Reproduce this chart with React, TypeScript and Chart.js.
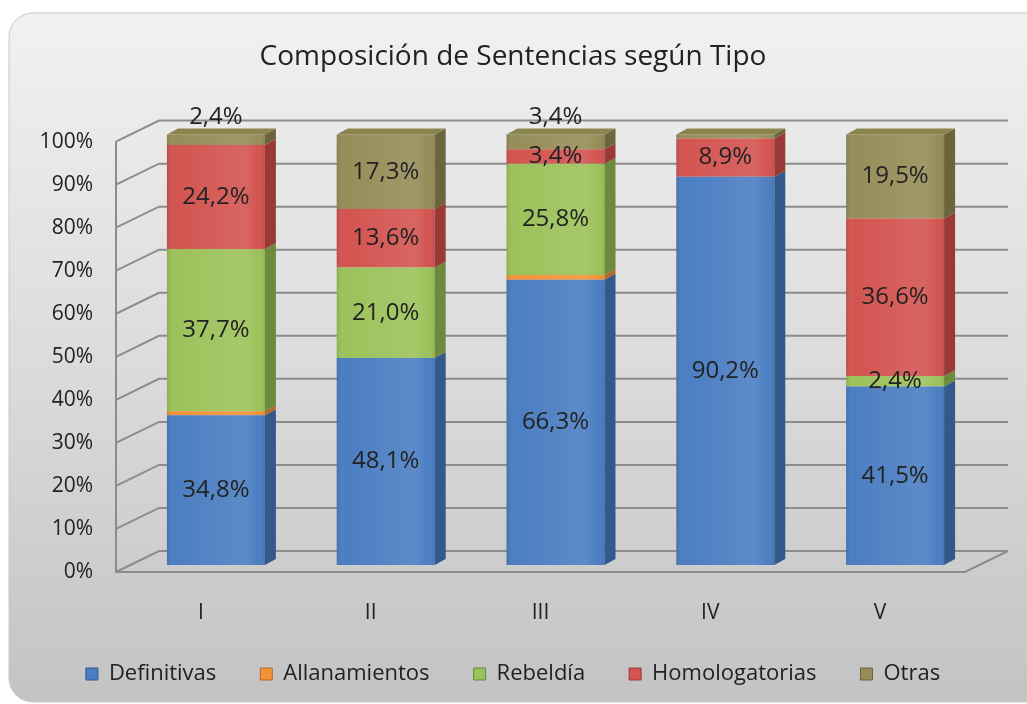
import React, { useEffect, useRef } from "react";
import { Chart, registerables } from "chart.js";

Chart.register(...registerables);

// ---------- data ----------
const title = "Composición de Sentencias según Tipo";
const categories = ["I", "II", "III", "IV", "V"];
const seriesNames = ["Definitivas", "Allanamientos", "Rebeldía", "Homologatorias", "Otras"];
const definitivas = [34.8, 48.1, 66.3, 90.2, 41.5];
const allanamientos = [0.9, 0, 1.1, 0, 0];
const rebeldia = [37.7, 21.0, 25.8, 0, 2.4];
const homologatorias = [24.2, 13.6, 3.4, 8.9, 36.6];
const otras = [2.4, 17.3, 3.4, 0.9, 19.5];
const seriesValues = [definitivas, allanamientos, rebeldia, homologatorias, otras];

// ---------- styles ----------
const frontColors = ["#4b7ec2", "#f39237", "#9cc25b", "#d35451", "#978d59"];
const sideColors = ["#33598c", "#b3692a", "#6d8a3d", "#993a37", "#6b643c"];
const topColors = ["#5a8ccc", "#f7a55a", "#aacb6e", "#c8605c", "#8a844f"];
const FONT = '"Open Sans", sans-serif';
const TEXT = "#222222";

const WALL_DX = 43;
const WALL_DY = 21;
const BAR_DX = 15;
const BAR_DY = 7;
const SIDE_DX = 11;
const SIDE_DY = 6;

const fmt = (v: number) => v.toFixed(1).replace(".", ",") + "%";

const backgroundPlugin = {
  id: "bg3d",
  beforeDraw(chart: any) {
    const ctx = chart.ctx as CanvasRenderingContext2D;
    const x = 9, y = 13, w = 1060, h = 689, r = 24;
    ctx.save();
    ctx.fillStyle = "#ffffff";
    ctx.fillRect(0, 0, chart.width, chart.height);
    const g = ctx.createLinearGradient(0, y, 0, y + h);
    g.addColorStop(0, "#f1f1f1");
    g.addColorStop(0.5, "#dcdcdc");
    g.addColorStop(1, "#c3c3c3");
    ctx.beginPath();
    ctx.moveTo(x + r, y);
    ctx.lineTo(x + w - r, y);
    ctx.arcTo(x + w, y, x + w, y + r, r);
    ctx.lineTo(x + w, y + h - r);
    ctx.arcTo(x + w, y + h, x + w - r, y + h, r);
    ctx.lineTo(x + r, y + h);
    ctx.arcTo(x, y + h, x, y + h - r, r);
    ctx.lineTo(x, y + r);
    ctx.arcTo(x, y, x + r, y, r);
    ctx.closePath();
    ctx.fillStyle = g;
    ctx.fill();
    ctx.strokeStyle = "#c8c8c8";
    ctx.lineWidth = 1;
    ctx.stroke();
    ctx.restore();
  },
};

const threeDPlugin = {
  id: "threeD",
  beforeDatasetsDraw(chart: any) {
    const ctx = chart.ctx as CanvasRenderingContext2D;
    const { left, right, top, bottom } = chart.chartArea;
    const y = chart.scales.y;
    ctx.save();
    ctx.strokeStyle = "#8c8c8c";
    ctx.lineWidth = 2;
    y.ticks.forEach((t: any) => {
      const py = y.getPixelForValue(t.value);
      ctx.beginPath();
      ctx.moveTo(left, py);
      ctx.lineTo(left + WALL_DX, py - WALL_DY);
      ctx.lineTo(right + WALL_DX, py - WALL_DY);
      ctx.stroke();
    });
    ctx.beginPath();
    ctx.moveTo(left, top);
    ctx.lineTo(left, bottom);
    ctx.lineTo(right, bottom);
    ctx.lineTo(right + WALL_DX, bottom - WALL_DY);
    ctx.stroke();
    ctx.restore();
    ctx.save();
    ctx.translate(BAR_DX, -BAR_DY);
  },
  afterDatasetsDraw(chart: any) {
    const ctx = chart.ctx as CanvasRenderingContext2D;
    const nCat = chart.data.labels.length;
    const nSer = chart.data.datasets.length;
    for (let j = 0; j < nCat; j++) {
      let topIdx = -1;
      for (let i = 0; i < nSer; i++) {
        const v = chart.data.datasets[i].data[j];
        if (!v) continue;
        topIdx = i;
        const el = chart.getDatasetMeta(i).data[j] as any;
        const xl = el.x - el.width / 2;
        const xr = el.x + el.width / 2;
        const g = ctx.createLinearGradient(xl, 0, xr, 0);
        g.addColorStop(0, "rgba(0,0,0,0.10)");
        g.addColorStop(0.08, "rgba(255,255,255,0.0)");
        g.addColorStop(0.8, "rgba(255,255,255,0.10)");
        g.addColorStop(0.93, "rgba(255,255,255,0.0)");
        g.addColorStop(1, "rgba(0,0,0,0.08)");
        ctx.fillStyle = g;
        ctx.fillRect(xl, el.y, el.width, el.base - el.y);
        ctx.beginPath();
        ctx.moveTo(xr, el.y);
        ctx.lineTo(xr + SIDE_DX, el.y - SIDE_DY);
        ctx.lineTo(xr + SIDE_DX, el.base - SIDE_DY);
        ctx.lineTo(xr, el.base);
        ctx.closePath();
        ctx.fillStyle = sideColors[i];
        ctx.fill();
      }
      if (topIdx >= 0) {
        const el = chart.getDatasetMeta(topIdx).data[j] as any;
        const xl = el.x - el.width / 2;
        const xr = el.x + el.width / 2;
        ctx.beginPath();
        ctx.moveTo(xl, el.y);
        ctx.lineTo(xl + SIDE_DX, el.y - SIDE_DY);
        ctx.lineTo(xr + SIDE_DX, el.y - SIDE_DY);
        ctx.lineTo(xr, el.y);
        ctx.closePath();
        ctx.fillStyle = topColors[topIdx];
        ctx.fill();
      }
    }
    ctx.font = `24px ${FONT}`;
    ctx.fillStyle = TEXT;
    ctx.textAlign = "center";
    ctx.textBaseline = "middle";
    for (let i = 0; i < nSer; i++) {
      for (let j = 0; j < nCat; j++) {
        const v = chart.data.datasets[i].data[j];
        if (!v || v < 2) continue;
        const el = chart.getDatasetMeta(i).data[j] as any;
        let cy = (el.y + el.base) / 2;
        if (i === nSer - 1 && v < 5) cy = el.y - SIDE_DY - 11;
        ctx.fillText(fmt(v), el.x, cy);
      }
    }
    ctx.restore();
  },
};

export default function App() {
  const canvasRef = useRef<HTMLCanvasElement | null>(null);

  useEffect(() => {
    if (!canvasRef.current) return;
    Chart.defaults.font.family = FONT;
    const chart = new Chart(canvasRef.current, {
      type: "bar",
      data: {
        labels: categories,
        datasets: seriesNames.map((name, i) => ({
          label: name,
          data: seriesValues[i],
          backgroundColor: frontColors[i],
          borderWidth: 0,
          barPercentage: 0.577,
          categoryPercentage: 1,
        })),
      },
      options: {
        animation: false,
        responsive: false,
        maintainAspectRatio: false,
        layout: { padding: { left: 30, right: 31, top: 0, bottom: 9 } },
        datasets: { bar: { clip: false as any } },
        plugins: {
          title: {
            display: true,
            text: title,
            color: TEXT,
            font: { size: 28, weight: "normal" as any, family: FONT },
            padding: { top: 40, bottom: 68 },
          },
          legend: {
            position: "bottom",
            labels: {
              color: TEXT,
              font: { size: 22, family: FONT },
              boxWidth: 12,
              boxHeight: 12,
              padding: 44,
              generateLabels: (ch: any) =>
                ch.data.datasets.map((d: any, i: number) => ({
                  text: d.label,
                  fillStyle: frontColors[i],
                  strokeStyle: sideColors[i],
                  lineWidth: 1,
                  hidden: false,
                  datasetIndex: i,
                  fontColor: TEXT,
                })),
            },
          },
          tooltip: { enabled: false },
        },
        scales: {
          x: {
            stacked: true,
            grid: { display: false, drawTicks: false },
            border: { display: false },
            ticks: { color: TEXT, font: { size: 21, family: FONT }, padding: 28 },
            afterFit: (s: any) => {
              const lh = s.chart.legend ? s.chart.legend.height : 76;
              s.height = 704 - 572 - lh - 9;
            },
          },
          y: {
            stacked: true,
            min: 0,
            max: 100,
            grid: { display: false, drawTicks: false },
            border: { display: false },
            ticks: {
              stepSize: 10,
              color: TEXT,
              font: { size: 21, family: FONT },
              padding: 23,
              callback: (v: any) => v + "%",
            },
            afterFit: (s: any) => {
              s.width = 116 - 30;
            },
          },
          y2: {
            position: "right",
            min: 0,
            max: 100,
            grid: { display: false, drawTicks: false },
            border: { display: false },
            ticks: { display: false },
            afterFit: (s: any) => {
              s.width = 31;
            },
          },
        },
      },
      plugins: [backgroundPlugin, threeDPlugin],
    });
    return () => chart.destroy();
  }, []);

  return (
    <div style={{ position: "fixed", left: 0, top: 0, width: 1027, height: 704 }}>
      <canvas ref={canvasRef} width={1027} height={704} style={{ display: "block" }} />
    </div>
  );
}
